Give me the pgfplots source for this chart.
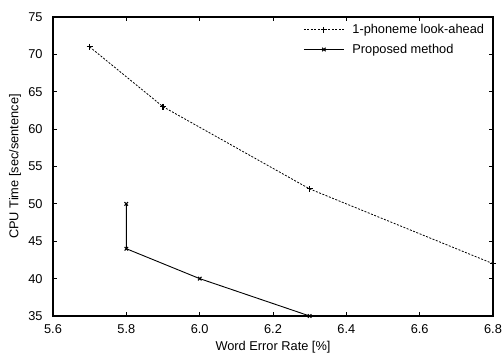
\documentclass[border=0pt]{standalone}
\usepackage{fontspec}
\setmainfont{Liberation Sans}
\usepackage{pgfplots}
\pgfplotsset{compat=1.18}
\begin{document}
\fontsize{12.8}{15}\selectfont
\begin{tikzpicture}
\begin{axis}[
  name=ax,
  scale only axis,
  width=440pt, height=299pt,
  xmin=5.6, xmax=6.8, ymin=35, ymax=75,
  xtick={5.6,5.8,6.0,6.2,6.4,6.6,6.8},
  ytick={35,40,45,50,55,60,65,70,75},
  xticklabel style={yshift=-4pt, /pgf/number format/.cd,fixed,fixed zerofill,precision=1},
  /pgf/number format/assume math mode=true,
  ticklabel style={font=\fontsize{12.8}{15}\selectfont},
  yticklabel style={xshift=-6pt},
  tick align=inside,
  major tick length=4pt,
  axis line style={line width=1.3pt},
  tick style={black, line width=0.9pt},
  xlabel={Word Error Rate [\%]},
  ylabel={CPU Time [sec/sentence]},
  label style={font=\fontsize{12.8}{15}\selectfont},
  every axis x label/.style={at={(axis description cs:0.5,0)}, anchor=center, yshift=-31pt},
  every axis y label/.style={at={(axis description cs:0,0.5)}, anchor=center, xshift=-38pt, rotate=90},
  legend style={draw=none, fill=none, at={(axis description cs:0.562,0.99)}, anchor=north west, font=\fontsize{12.8}{15}\selectfont, row sep=4.5pt,
    /tikz/every odd column/.append style={column sep=6pt}},
  legend cell align=left,
  legend image code/.code={\draw[mark repeat=2,mark phase=2] plot coordinates {(0pt,0pt) (20pt,0pt) (40pt,0pt)};},
]
\addplot[black, dash pattern=on 2pt off 1.5pt, line width=0.8pt, mark=+, mark size=3pt, mark options={solid, line width=1.1pt}] coordinates {
 (5.7,71) (5.9,63) (6.3,52) (6.8,42)
};
\addlegendentry{1-phoneme look-ahead}
\addplot[black, solid, line width=0.9pt, mark=x, mark size=2.5pt, mark options={line width=1.1pt}] coordinates {
 (5.8,50) (5.8,44) (6.0,40) (6.3,35)
};
\addlegendentry{Proposed method}
\end{axis}
\pgfresetboundingbox
\path ([shift={(-53pt,-39pt)}]ax.south west) rectangle ([shift={(9pt,17pt)}]ax.north east);
\end{tikzpicture}
\end{document}
